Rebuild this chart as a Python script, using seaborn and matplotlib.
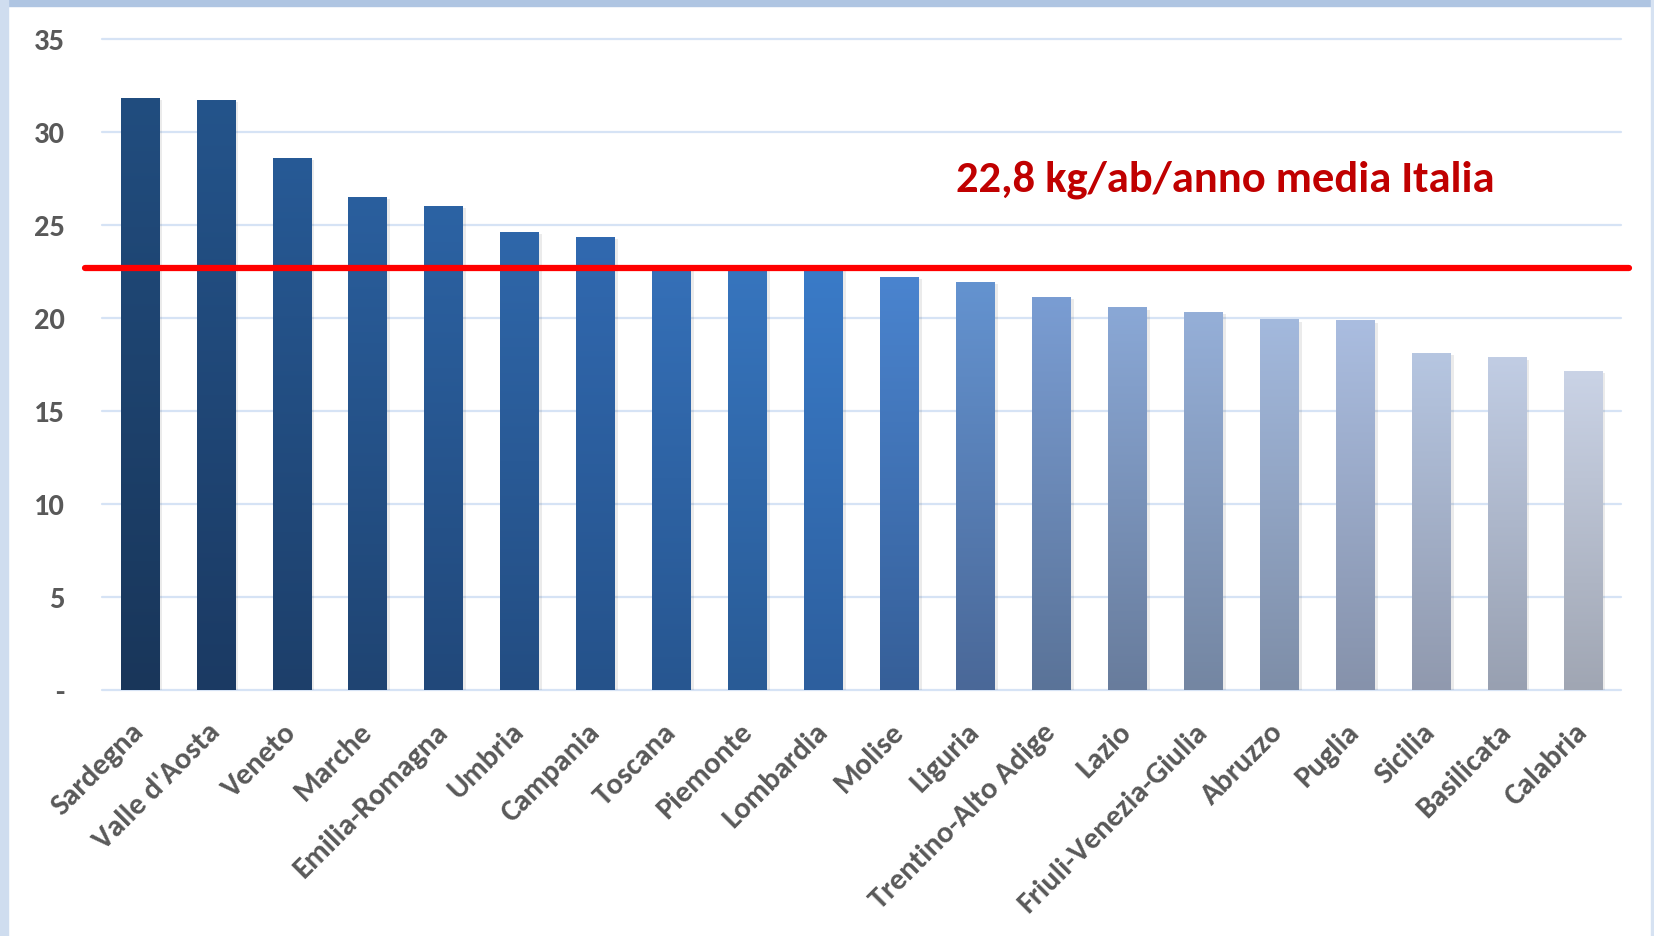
import numpy as np
import matplotlib
matplotlib.use('Agg')
import matplotlib.pyplot as plt
import matplotlib.transforms as mtransforms
from matplotlib.colors import LinearSegmentedColormap
from matplotlib.patches import Rectangle
import seaborn as sns

sns.set_style('white')
plt.rcParams['font.family'] = ['Carlito', 'Lato', 'DejaVu Sans']

# kg per inhabitant per year, by region
regions = ['Sardegna', "Valle d'Aosta", 'Veneto', 'Marche', 'Emilia-Romagna',
           'Umbria', 'Campania', 'Toscana', 'Piemonte', 'Lombardia', 'Molise',
           'Liguria', 'Trentino-Alto Adige', 'Lazio', 'Friuli-Venezia-Giulia',
           'Abruzzo', 'Puglia', 'Sicilia', 'Basilicata', 'Calabria']
values = [31.8, 31.7, 28.6, 26.5, 26.0, 24.6, 24.35, 22.8, 22.7, 22.7,
          22.2, 21.9, 21.1, 20.55, 20.3, 19.9, 19.85, 18.1, 17.85, 17.15]
avg_line = 22.65
avg_label = '22,8 kg/ab/anno media Italia'
yticks = [0, 5, 10, 15, 20, 25, 30, 35]
ytick_labels = ['-', '5', '10', '15', '20', '25', '30', '35']

# gradient colours per bar (top / bottom)
top_colors = ['#214D7F', '#24548B', '#275A96', '#2A5F9E', '#2C63A4', '#2F67AA',
              '#3169B0', '#3570B8', '#3775BE', '#3A7BC8', '#4A84CF', '#6493D0',
              '#7A9DD3', '#8AA8D6', '#95AFD8', '#A3B9DD', '#AABDE0', '#B6C6E1',
              '#C1CDE4', '#CAD3E6']
bot_colors = ['#19365A', '#1B3A63', '#1D3F6A', '#1F4472', '#21487A', '#234D82',
              '#25528A', '#275690', '#295B96', '#2D5F9E', '#365F98', '#4A6898',
              '#5A7398', '#687C9C', '#7486A2', '#7E8EA8', '#8692AB', '#9099AE',
              '#98A0B1', '#A0A6B3']

W, H = 1654, 937
fig = plt.figure(figsize=(W / 100, H / 100), dpi=100)
fig.patch.set_facecolor('white')

# slide frame
fig.patches.append(Rectangle((0, 1 - 7 / H), 1, 7 / H, transform=fig.transFigure,
                             color='#AFC5E2', zorder=0))
fig.patches.append(Rectangle((0, 0), 8 / W, 1, transform=fig.transFigure,
                             color='#CFDDEF', zorder=0))
fig.patches.append(Rectangle((1 - 3 / W, 0), 3 / W, 1, transform=fig.transFigure,
                             color='#D6E2F2', zorder=0))

ax = fig.add_axes([102 / W, (H - 690.5) / H, 1519 / W, 651 / H])

sns.barplot(x=regions, y=values, hue=regions, palette=top_colors, legend=False,
            width=0.51, saturation=1, linewidth=0, ax=ax, zorder=3)

grad = np.linspace(0, 1, 256).reshape(-1, 1)
for patch, ct, cb in zip(ax.patches, top_colors, bot_colors):
    x0, w, h = patch.get_x(), patch.get_width(), patch.get_height()
    # soft shadow
    ax.add_patch(Rectangle((x0 + 0.04, -0.12), w, h, color='#000000', alpha=0.08,
                           linewidth=0, zorder=2))
    cmap = LinearSegmentedColormap.from_list('g', [cb, ct])
    im = ax.imshow(grad, cmap=cmap, extent=[x0, x0 + w, 0, h], origin='lower',
                   aspect='auto', zorder=3.5)
    im.set_clip_path(patch)

ax.set_xlim(-0.5, 19.5)
ax.set_ylim(0, 35)

ax.axhline(avg_line, xmin=-17 / 1519, xmax=1.005, color='#FF0000', lw=4.5,
           zorder=5, clip_on=False)
ax.text(14.29, 26.85, avg_label, ha='center', va='baseline', color='#C00000',
        fontsize=32, fontweight='bold', zorder=6)

ax.set_yticks(yticks)
ax.set_yticklabels(ytick_labels)
ax.yaxis.grid(True, color='#D6E3F5', lw=1.6, zorder=0)
for gl in ax.get_ygridlines():
    gl.set_clip_on(False)
ax.xaxis.grid(False)
ax.set_axisbelow(True)
for s in ax.spines.values():
    s.set_visible(False)

ax.tick_params(axis='y', length=0, pad=27, labelsize=22, labelcolor='#595959')
ax.tick_params(axis='x', length=0, pad=27, labelsize=22, labelcolor='#595959')
for lab in ax.get_yticklabels():
    lab.set_fontweight('bold')
offset = mtransforms.ScaledTranslation(0, 0, fig.dpi_scale_trans)
for lab in ax.get_xticklabels():
    lab.set_fontweight('bold')
    lab.set_rotation(45)
    lab.set_ha('right')
    lab.set_va('center')
    lab.set_rotation_mode('anchor')
    lab.set_transform(lab.get_transform() + offset)
ax.set_xlabel('')
ax.set_ylabel('')

fig.savefig('out.png', dpi=100, facecolor='white')
